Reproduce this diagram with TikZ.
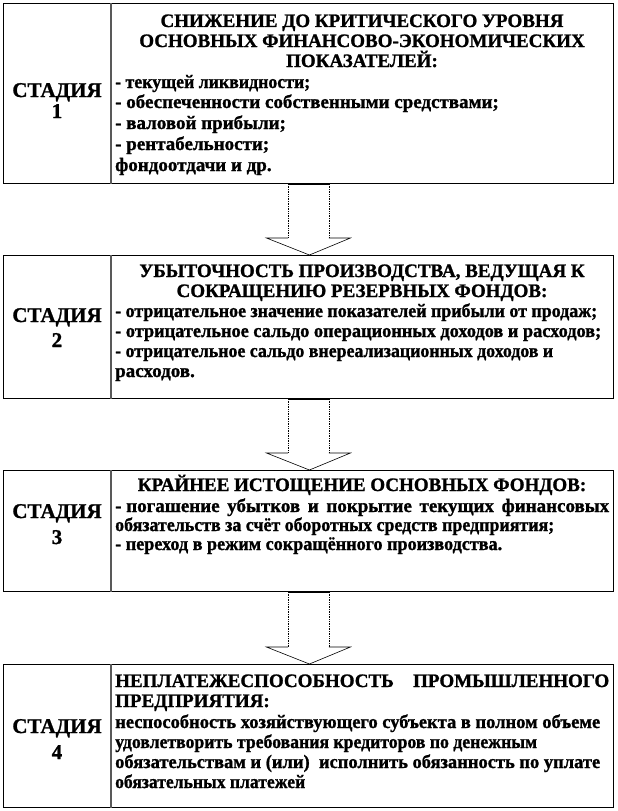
\documentclass[tikz,border=0pt]{standalone}
\usepackage{graphicx}
\usepackage{fontspec}
\setmainfont{Liberation Serif}[BoldFont={Liberation Serif Bold},BoldFeatures={FakeBold=1.2}]
\usetikzlibrary{calc}
\newcommand\fitwidth[2]{\resizebox{#1}{\height}{#2}}
\tikzset{
  box/.style={draw=black, line width=0.9pt, inner sep=0pt, minimum width=610pt, anchor=north west},
  divider/.style={draw=black!65, line width=1.4pt},
  hd/.style={font=\rmfamily\bfseries\fontsize{19}{20}\selectfont, inner sep=0pt, anchor=base},
  itm/.style={font=\rmfamily\bfseries\fontsize{19}{20}\selectfont, inner sep=0pt, anchor=base west},
  stg/.style={font=\rmfamily\bfseries\fontsize{21}{22}\selectfont, inner sep=0pt, anchor=base},
  shaftline/.style={draw=black, line width=0.7pt, densely dotted},
  headline/.style={draw=black, line width=0.6pt, line join=miter},
}
\begin{document}
\begin{tikzpicture}[x=1pt,y=-1pt]
\useasboundingbox (0,0) rectangle (618,811);
% boxes
\node[box, minimum height=180pt] (b1) at (3,3) {};
\node[box, minimum height=143pt] (b2) at (3,255) {};
\node[box, minimum height=121pt] (b3) at (3,470) {};
\node[box, minimum height=143pt] (b4) at (3,664) {};
\foreach \b in {b1,b2,b3,b4}{
  \draw[divider] ([xshift=108pt]\b.north west) -- ([xshift=108pt]\b.south west);
}
% arrows
\foreach \a/\b in {b1/b2,b2/b3,b3/b4}{
  \fill[white] let \p1=(\a.south), \p2=(\b.north) in
    (\x1-20.5pt,\y1) -- (\x1-20.5pt,\y2+17pt) -- (\x1-42pt,\y2+17pt) -- (\x2+1pt,\y2)
    -- (\x1+42pt,\y2+17pt) -- (\x1+20.5pt,\y2+17pt) -- (\x1+20.5pt,\y1) -- cycle;
  \draw[shaftline] let \p1=(\a.south), \p2=(\b.north) in
    (\x1-20.5pt,\y1) -- (\x1-20.5pt,\y2+17pt)
    (\x1+20.5pt,\y1) -- (\x1+20.5pt,\y2+17pt);
  \draw[headline] let \p1=(\a.south), \p2=(\b.north) in
    (\x1-20.5pt,\y2+17pt) -- (\x1-42pt,\y2+17pt) -- (\x2+1pt,\y2)
    -- (\x1+42pt,\y2+17pt) -- (\x1+20.5pt,\y2+17pt);
  \draw[black, line width=1.4pt] let \p1=(\a.south) in (\x1-20.5pt,\y1) -- (\x1+20.5pt,\y1);
}
% stage labels
\node[stg] (s1a) at (57,97) {СТАДИЯ};
\node[stg] (s1b) at (57,118) {1};
\node[stg] (s2a) at (57,322) {СТАДИЯ};
\node[stg] (s2b) at (57,347) {2};
\node[stg] (s3a) at (57,518) {СТАДИЯ};
\node[stg] (s3b) at (57,544) {3};
\node[stg] (s4a) at (57,733) {СТАДИЯ};
\node[stg] (s4b) at (57,759) {4};
% stage 1
\node[hd] (t1a) at (362,27) {СНИЖЕНИЕ ДО КРИТИЧЕСКОГО УРОВНЯ};
\node[hd] (t1b) at (362,47) {ОСНОВНЫХ ФИНАНСОВО-ЭКОНОМИЧЕСКИХ};
\node[hd] (t1c) at (362,67) {ПОКАЗАТЕЛЕЙ:};
\node[itm] (i1a) at (115,88) {\fitwidth{195pt}{- текущей ликвидности;}};
\node[itm] (i1b) at (115,108) {- обеспеченности собственными средствами;};
\node[itm] (i1c) at (115,129) {- валовой прибыли;};
\node[itm] (i1d) at (115,150) {- рентабельности;};
\node[itm] (i1e) at (115,171) {фондоотдачи и др.};
% stage 2
\node[hd] (t2a) at (362,277) {УБЫТОЧНОСТЬ ПРОИЗВОДСТВА, ВЕДУЩАЯ К};
\node[hd] (t2b) at (362,297) {СОКРАЩЕНИЮ РЕЗЕРВНЫХ ФОНДОВ:};
\node[itm] (i2a) at (115,317) {\fitwidth{482pt}{- отрицательное значение показателей прибыли от продаж;}};
\node[itm] (i2b) at (115,337) {\fitwidth{486pt}{- отрицательное сальдо операционных доходов и расходов;}};
\node[itm] (i2c) at (115,357) {\fitwidth{438pt}{- отрицательное сальдо внереализационных доходов и}};
\node[itm] (i2d) at (115,377) {расходов.};
% stage 3
\node[hd] (t3a) at (362,491) {КРАЙНЕЕ ИСТОЩЕНИЕ ОСНОВНЫХ ФОНДОВ:};
\node[itm] (i3a) at (115,512) {\hbox to 494pt{- погашение\hfill убытков\hfill и\hfill покрытие\hfill текущих\hfill финансовых}};
\node[itm] (i3b) at (115,531) {\fitwidth{439pt}{обязательств за счёт оборотных средств предприятия;}};
\node[itm] (i3c) at (115,550) {\fitwidth{387pt}{- переход в режим сокращённого производства.}};
% stage 4
\node[itm] (t4a) at (115,687) {\hbox to 494pt{НЕПЛАТЕЖЕСПОСОБНОСТЬ\hfill ПРОМЫШЛЕННОГО}};
\node[itm] (t4b) at (115,707) {ПРЕДПРИЯТИЯ:};
\node[itm] (i4a) at (115,728) {\fitwidth{485pt}{неспособность хозяйствующего субъекта в полном объеме}};
\node[itm] (i4b) at (115,748) {\fitwidth{422pt}{удовлетворить требования кредиторов по денежным}};
\node[itm] (i4c) at (115,768) {\fitwidth{485pt}{обязательствам и (или)\ \ исполнить обязанность по уплате}};
\node[itm] (i4d) at (115,788) {\fitwidth{190pt}{обязательных платежей}};
\end{tikzpicture}
\end{document}
